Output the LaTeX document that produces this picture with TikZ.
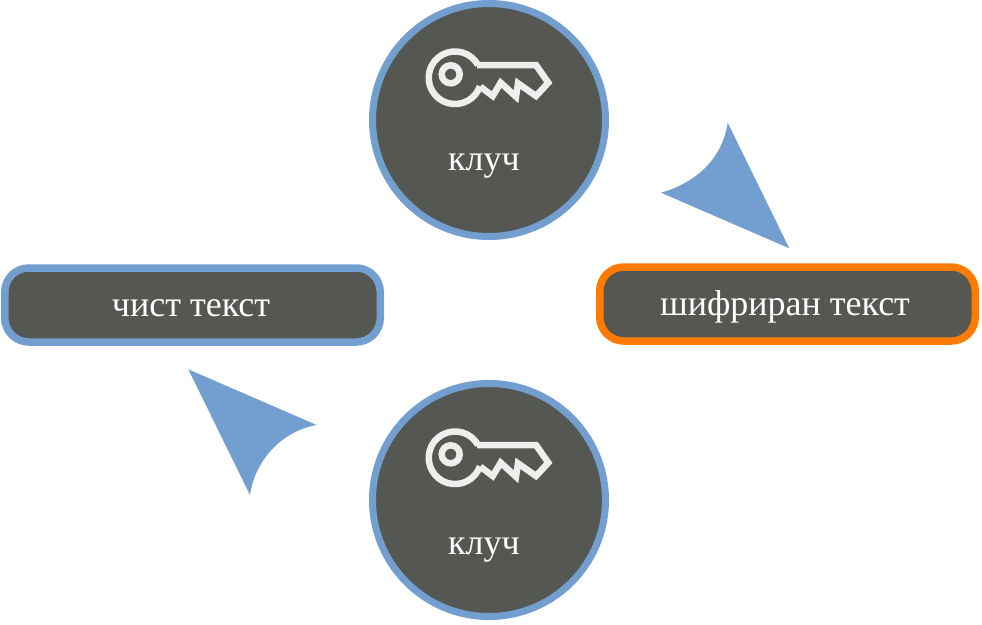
\documentclass[tikz,border=0pt]{standalone}
\usepackage{fontspec}
\setmainfont{Liberation Serif}
\definecolor{bluel}{HTML}{729FCF}
\definecolor{darkf}{HTML}{555753}
\definecolor{orangel}{HTML}{FF7B00}
\definecolor{keyc}{HTML}{EEEEEC}
\tikzset{
  x=1pt,y=-1pt,
  round/.style={circle,draw=bluel,fill=darkf,line width=7pt,minimum size=233pt,inner sep=0pt},
  plainbox/.style={rectangle,rounded corners=24pt,draw=bluel,fill=darkf,line width=7.5pt,minimum width=375.5pt,minimum height=74pt,inner sep=0pt},
  cipherbox/.style={plainbox,draw=orangel},
  lab/.style={text=white,font=\fontsize{36}{40}\selectfont,inner sep=0pt,anchor=base},
  arrowfill/.style={fill=bluel,draw=none},
  keyline/.style={draw=keyc,line width=6.5pt,line join=miter,fill=none},
  pics/keyicon/.style={code={
    \draw[keyline] (23,-13) arc[start angle=-29,end angle=-341,radius=26.3];
    \draw[keyline] (22,-13) -- (81,-13) -- (93.3,4.7) -- (81,18) -- (63,5.3) -- (61,18.7) -- (45.7,4.7) -- (37.7,18) -- (25.3,8.7);
    \draw[keyline] (-4.3,-3.7) circle[radius=9];
  }}
}
\begin{document}
\begin{tikzpicture}
\useasboundingbox (0,0) rectangle (982,624);
\node[round] (topc) at (489,120) {};
\node[round] (botc) at (489,500) {};
\node[plainbox] (plain) at (192.5,305) {};
\node[cipherbox] (cipher) at (787.5,304) {};
\node[lab] (t1) at (191,316) {чист текст};
\node[lab] (t2) at (785,315) {шифриран текст};
\pic at (455,78) {keyicon};
\pic at (455,458) {keyicon};
\node[lab] (k1) at (484,170) {клуч};
\node[lab] (k2) at (484,554) {клуч};
\path[arrowfill] (727.7,122.7) .. controls (722,160) and (695,183) .. (661,192.7) -- (789.3,248.3) -- cycle;
\path[arrowfill] (316.7,425) .. controls (282,431) and (255,460) .. (250,495) -- (188.3,369.3) -- cycle;
\end{tikzpicture}
\end{document}
